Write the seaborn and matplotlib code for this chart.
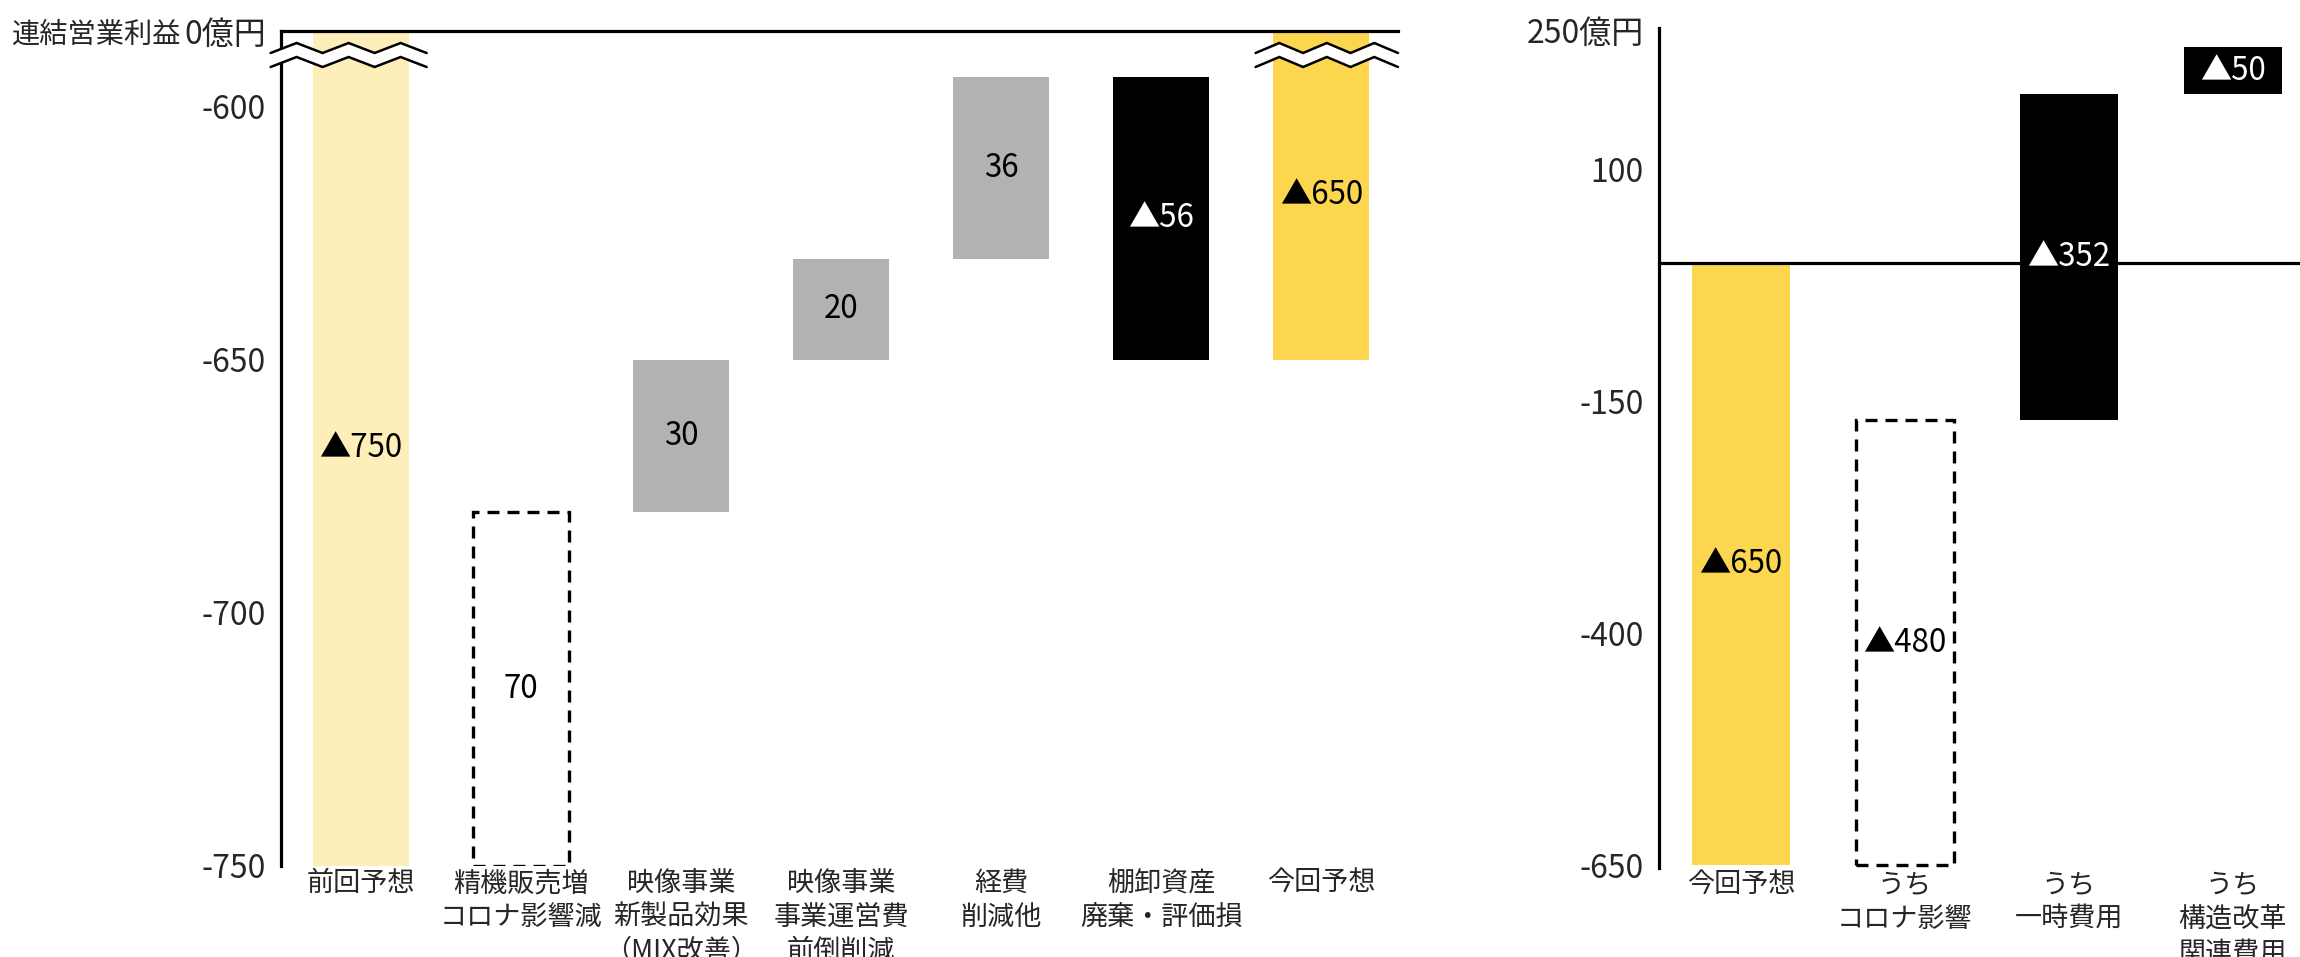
import numpy as np
import pandas as pd
import matplotlib
matplotlib.use("Agg")
import matplotlib.pyplot as plt
import seaborn as sns

# ---------------- data ----------------
left_categories = ["前回予想", "精機販売増\nコロナ影響減", "映像事業\n新製品効果\n（MIX改善）",
                   "映像事業\n事業運営費\n前倒削減", "経費\n削減他", "棚卸資産\n廃棄・評価損", "今回予想"]
left_previous = -750
left_changes = [70, 30, 20, 36, -56]
left_current = -650
left_ticks = [-750, -700, -650, -600]
left_top_value = 0

right_categories = ["今回予想", "うち\nコロナ影響", "うち\n一時費用", "うち\n構造改革\n関連費用"]
right_current = -650
right_components = [-480, -352, -50]
right_ticks = [-650, -400, -150, 100, 250]
unit = "億円"

# ---------------- style ----------------
sns.set_style("white")
plt.rcParams["font.family"] = ["Noto Sans CJK JP", "DejaVu Sans"]

LIGHT = "#FDEEBA"
GOLD = "#FCD64F"
GRAY = "#B2B2B2"
BLACK = "#000000"
DASHED = "dashed"

W, H = 2300, 957
fig = plt.figure(figsize=(W / 100, H / 100), dpi=100)
axL = fig.add_axes([281 / W, 1 - 866 / H, (1398 - 281) / W, (866 - 31) / H])
axR = fig.add_axes([1659 / W, 1 - 868 / H, (2300 - 1659) / W, (868 - 28) / H])


def fmt(v):
    return ("▲" + str(abs(v))) if v < 0 else str(v)


# left waterfall geometry from data
l_bottoms, l_heights, l_labels = [0], [left_previous], [fmt(left_previous)]
run = left_previous
for c in left_changes:
    l_bottoms.append(run)
    l_heights.append(c)
    l_labels.append(fmt(c))
    run += c
l_bottoms.append(0)
l_heights.append(left_current)
l_labels.append(fmt(left_current))
l_styles = [LIGHT, DASHED, GRAY, GRAY, GRAY, BLACK, GOLD]

# right decomposition
r_bottoms, r_heights, r_labels = [0], [right_current], [fmt(right_current)]
run = right_current
for c in right_components:
    r_bottoms.append(run)
    r_heights.append(-c)
    r_labels.append(fmt(c))
    run -= c
r_styles = [GOLD, DASHED, BLACK, BLACK]


def draw(ax, cats, bottoms, heights, labels, styles, ylim, xlim):
    df = pd.DataFrame({"item": cats, "height": heights})
    sns.barplot(data=df, x="item", y="height", ax=ax, color=GRAY, width=0.6,
                saturation=1, errorbar=None, bottom=np.array(bottoms, dtype=float),
                linewidth=0)
    for p, st in zip(ax.patches, styles):
        if st == DASHED:
            p.set_facecolor("none")
            p.set_edgecolor("black")
            p.set_linewidth(2.4)
            p.set_linestyle((0, (3.6, 2.4)))
            p.set_joinstyle("miter")
        else:
            p.set_facecolor(st)
            p.set_edgecolor("none")
    ax.set_ylim(*ylim)
    ax.set_xlim(*xlim)
    for i, (b, h, lab, st) in enumerate(zip(bottoms, heights, labels, styles)):
        lo, hi = sorted([b, b + h])
        lo, hi = max(lo, ylim[0]), min(hi, ylim[1])
        ax.text(i, (lo + hi) / 2, lab, ha="center", va="center", fontsize=22.5,
                color="white" if st == BLACK else "black", zorder=6)
    ax.set_xlabel("")
    ax.set_ylabel("")
    ax.set_xticks(range(len(cats)))
    ax.set_xticklabels(cats, fontsize=19.5, linespacing=1.32)
    ax.tick_params(axis="x", length=0, pad=3)
    ax.tick_params(axis="y", length=0, pad=11, labelsize=23)
    for s in ["right", "bottom"]:
        ax.spines[s].set_visible(False)
    ax.spines["left"].set_linewidth(2.3)
    ax.spines["left"].set_color("black")
    ax.grid(False)


# ---- left panel ----
L_YLIM = (-750, -585)
draw(axL, left_categories, l_bottoms, l_heights, l_labels, l_styles, L_YLIM, (-0.5, 6.48))
axL.spines["top"].set_linewidth(2.3)
axL.spines["top"].set_color("black")
axL.set_yticks(left_ticks + [L_YLIM[1]])
axL.set_yticklabels([str(t) for t in left_ticks] + [f"{left_top_value}{unit}"])

# axis break marks (decoration) over the bars that cross the break
px = (L_YLIM[1] - L_YLIM[0]) / 835.0  # data units per pixel
top = L_YLIM[1]
for xc, x0, x1 in [(0, -0.565, 0.41), (6, -0.41, 0.48)]:
    xs = np.linspace(xc + x0, xc + x1, 7)
    up = np.array([top - (22 if k % 2 == 0 else 12) * px for k in range(7)])
    lo = up - 14 * px
    poly = np.vstack([np.column_stack([xs, up]), np.column_stack([xs[::-1], lo[::-1]])])
    axL.fill(poly[:, 0], poly[:, 1], color="white", zorder=7, clip_on=False, lw=0)
    axL.plot(xs, up, color="black", lw=1.8, zorder=8, clip_on=False, solid_joinstyle="miter")
    axL.plot(xs, lo, color="black", lw=1.8, zorder=8, clip_on=False, solid_joinstyle="miter")

# ---- right panel ----
R_YLIM = (-653, 253)
draw(axR, right_categories, r_bottoms, r_heights, r_labels, r_styles, R_YLIM, (-0.5, 3.41))
axR.spines["top"].set_visible(False)
axR.axhline(0, color="black", lw=2.3, zorder=5)
axR.set_yticks(right_ticks)
axR.set_yticklabels([str(t) for t in right_ticks[:-1]] + [f"{right_ticks[-1]}{unit}"])

fig.text(12 / W, 1 - 35 / H, "連結営業利益", ha="left", va="center", fontsize=20.3)

fig.savefig("out.png", dpi=100)
